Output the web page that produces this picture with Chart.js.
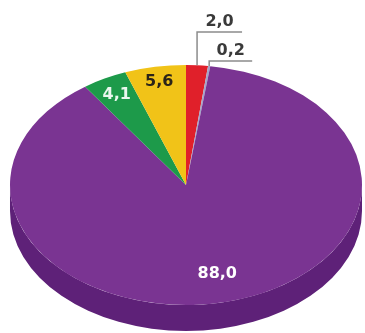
<!DOCTYPE html>
<html>
<head>
<meta charset="utf-8">
<script src="https://cdn.jsdelivr.net/npm/chart.js@4.4.1/dist/chart.umd.min.js"></script>
<style>
    html, body { margin: 0; padding: 0; background: #fff; }
    #wrap { width: 365px; height: 333px; position: relative; }
</style>
</head>
<body>
<div id="wrap"><canvas id="pie"></canvas></div>
<script>
    'use strict';

    // Shares, clockwise from 12 o'clock
    var sliceLabels = ['2,0', '0,2', '88,0', '4,1', '5,6'];
    var shares = [2.0, 0.2, 88.0, 4.1, 5.6];
    var topColors = ['#e0202a', '#a3a6c9', '#7a3492', '#1d9a4a', '#f1c318'];
    var sideColors = ['#a8141c', '#7a7ca0', '#5e2178', '#136e33', '#b89010'];
    var textColors = ['#3a3a3a', '#3a3a3a', '#ffffff', '#eaf7ef', '#2b2418'];

    var DEPTH = 26;            // thickness of the disc, px
    var FONT = 'bold 16px "DejaVu Sans", sans-serif';

    // inner labels: fraction of the radius along the slice's mid angle
    var innerLabels = { 2: 0.76, 3: 0.85, 4: 0.87 };
    // outer labels: leader goes straight up to elbowY, then right by run px
    var callouts = { 0: { elbowY: 32, run: 45 }, 1: { elbowY: 61, run: 43 } };

    function geometry(chart) {
        var area = chart.chartArea;
        var arcs = chart.getDatasetMeta(0).data;
        var r = arcs[0].outerRadius;
        return {
            cx: arcs[0].x,
            cy: arcs[0].y,
            r: r,
            sx: (area.width / 2) / r,
            sy: (area.height / 2) / r,
            arcs: arcs
        };
    }

    // squash the pie into an ellipse and give it a side wall
    var tiltPlugin = {
        id: 'tilt',
        beforeDatasetsDraw: function (chart) {
            var g = geometry(chart);
            var ctx = chart.ctx;
            ctx.save();
            ctx.translate(g.cx, g.cy);
            ctx.scale(g.sx, g.sy);
            ctx.translate(-g.cx, -g.cy);

            var d = DEPTH / g.sy;
            g.arcs.forEach(function (arc, i) {
                var a1 = Math.max(arc.startAngle, 0);
                var a2 = Math.min(arc.endAngle, Math.PI);
                if (a2 <= a1) return;
                ctx.beginPath();
                ctx.arc(g.cx, g.cy, g.r, a1, a2);
                ctx.lineTo(g.cx + g.r * Math.cos(a2), g.cy + g.r * Math.sin(a2) + d);
                ctx.arc(g.cx, g.cy + d, g.r, a2, a1, true);
                ctx.closePath();
                ctx.fillStyle = sideColors[i];
                ctx.fill();
            });
            // transform stays on for the top face, undone afterwards
        },
        afterDatasetsDraw: function (chart) {
            chart.ctx.restore();
        },
        afterDraw: function (chart) {
            var g = geometry(chart);
            var ctx = chart.ctx;
            var rx = g.r * g.sx, ry = g.r * g.sy;
            ctx.save();
            ctx.font = FONT;
            ctx.textAlign = 'center';

            g.arcs.forEach(function (arc, i) {
                var mid = (arc.startAngle + arc.endAngle) / 2;
                if (innerLabels[i]) {
                    var f = innerLabels[i];
                    ctx.textBaseline = 'middle';
                    ctx.fillStyle = textColors[i];
                    ctx.fillText(sliceLabels[i], g.cx + rx * f * Math.cos(mid), g.cy + ry * f * Math.sin(mid));
                } else if (callouts[i]) {
                    var c = callouts[i];
                    var ax = g.cx + rx * Math.cos(mid);
                    var ay = g.cy + ry * Math.sin(mid);
                    ctx.beginPath();
                    ctx.moveTo(ax, ay);
                    ctx.lineTo(ax, c.elbowY);
                    ctx.lineTo(ax + c.run, c.elbowY);
                    ctx.strokeStyle = '#8c8c8c';
                    ctx.lineWidth = 1.5;
                    ctx.stroke();
                    ctx.textBaseline = 'alphabetic';
                    ctx.fillStyle = textColors[i];
                    ctx.fillText(sliceLabels[i], ax + c.run / 2, c.elbowY - 6);
                }
            });
            ctx.restore();
        }
    };

    new Chart(document.getElementById('pie').getContext('2d'), {
        type: 'pie',
        data: {
            labels: sliceLabels,
            datasets: [{
                data: shares,
                backgroundColor: topColors,
                borderWidth: 0,
                clip: false
            }]
        },
        options: {
            responsive: true,
            maintainAspectRatio: false,
            animation: false,
            layout: { padding: { left: 10, right: 3, top: 65, bottom: 28 } },
            plugins: {
                legend: { display: false },
                tooltip: { enabled: false }
            }
        },
        plugins: [tiltPlugin]
    });
</script>
</body>
</html>
